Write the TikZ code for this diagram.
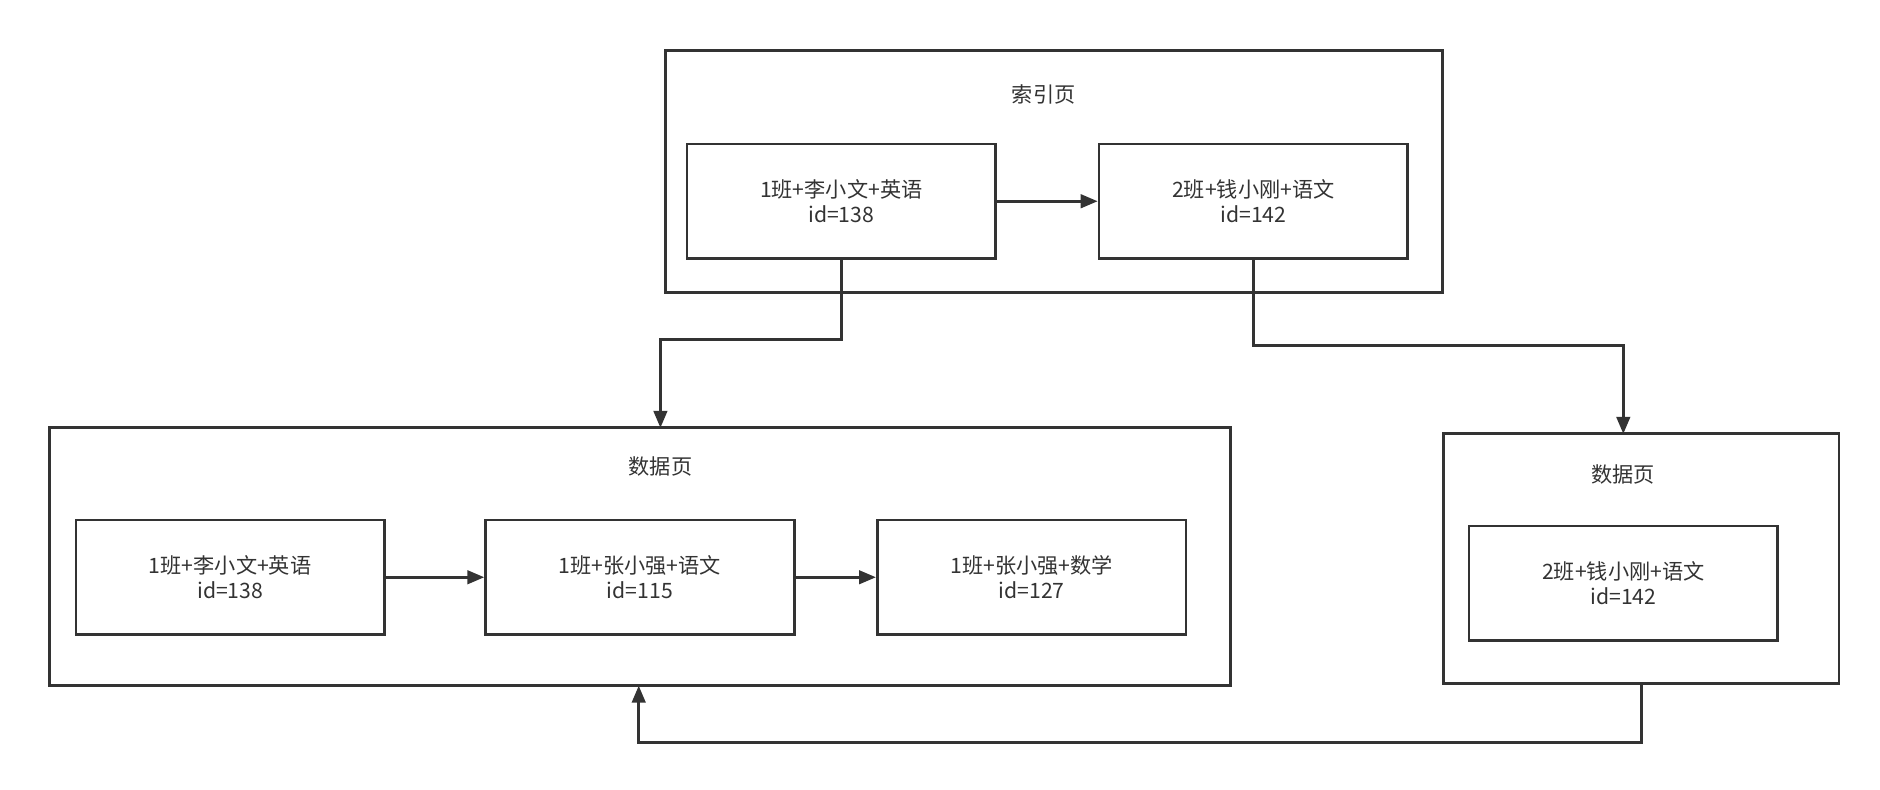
\documentclass[tikz,border=0pt]{standalone}
\usepackage{fontspec}
\setmainfont{Noto Sans CJK SC}
\usetikzlibrary{arrows.meta}
\definecolor{ink}{HTML}{333333}
\tikzset{
	rec/.style={draw=ink, line width=1.6pt, minimum width=6.4cm, minimum height=2.375cm, align=center, inner sep=0pt, font=\fontsize{12.5}{15}\selectfont, text=ink},
	page/.style={draw=ink, line width=1.6pt},
	link/.style={draw=ink, line width=1.6pt, -{Triangle[length=10pt,width=8pt]}}
	}
\begin{document}
\begin{tikzpicture}[x=0.025cm, y=-0.025cm]
	\useasboundingbox (0,0) rectangle (1560,655);

	% index page
	\draw[page] (552,42) rectangle (1197,243);
	\node[text=ink, font=\fontsize{12.5}{15}\selectfont] (ititle) at (866,78) {索引页};
	\node[rec] (i1) at (698,167) {1班+李小文+英语\\id=138};
	\node[rec] (i2) at (1040,167) {2班+钱小刚+语文\\id=142};

	% left data page
	\draw[page] (41,355) rectangle (1021,569);
	\node[text=ink, font=\fontsize{12.5}{15}\selectfont] (ltitle) at (548,387) {数据页};
	\node[rec] (d1) at (191,479) {1班+李小文+英语\\id=138};
	\node[rec] (d2) at (531,479) {1班+张小强+语文\\id=115};
	\node[rec] (d3) at (856,479) {1班+张小强+数学\\id=127};

	% right data page
	\draw[page] (1198,360) rectangle (1526,567);
	\node[text=ink, font=\fontsize{12.5}{15}\selectfont] (rtitle) at (1347,394) {数据页};
	\node[rec] (r1) at (1347,484) {2班+钱小刚+语文\\id=142};

	\coordinate (ltop) at (548,355);
	\coordinate (rtop) at (1347,360);
	\coordinate (rbot) at (1362,567);
	\coordinate (lbot) at (530,569);

	% links
	\draw[link] (i1) -- (i2);
	\draw[link] (d1) -- (d2);
	\draw[link] (d2) -- (d3);
	\draw[link] (i1.south) -- ++(0,66) -| (ltop);
	\draw[link] (i2.south) -- ++(0,71) -| (rtop);
	\draw[link] (rbot) -- ++(0,49) -| (lbot);

\end{tikzpicture}
\end{document}
